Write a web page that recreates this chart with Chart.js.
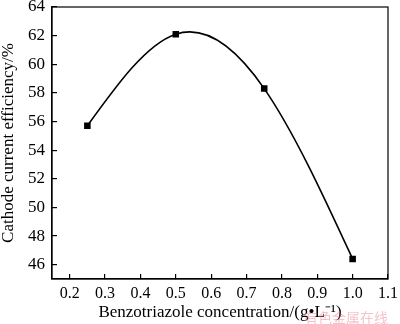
<!DOCTYPE html>
<html>
<head>
<meta charset="utf-8">
<script src="https://cdn.jsdelivr.net/npm/chart.js@4/dist/chart.umd.min.js"></script>
<style>
  body { margin: 0; background: #fff; }
  #wrap { position: relative; width: 400px; height: 324px; overflow: hidden; }
  #mark { position: absolute; left: 304px; top: 310px; font: 14px/14px "Noto Sans CJK SC"; color: rgba(235,120,130,0.45); }
</style>
</head>
<body>
<div id="wrap">
  <canvas id="c" width="400" height="324"></canvas>
  <div id="mark">有色金属在线</div>
</div>
<script>
const concentration = [0.25, 0.5, 0.75, 1.0];
const efficiency = [55.7, 62.1, 58.3, 46.4];
const xTicks = [0.2, 0.3, 0.4, 0.5, 0.6, 0.7, 0.8, 0.9, 1.0, 1.1];
const yTicks = [46, 48, 50, 52, 54, 56, 58, 60, 62, 64];

const serifFamily = '"Liberation Serif", "Times New Roman", serif';

// frame round the plot area
const frame = {
  id: 'frame',
  afterDraw(chart) {
    const a = chart.chartArea, ctx = chart.ctx;
    ctx.save();
    ctx.strokeStyle = '#000';
    ctx.lineWidth = 1.2;
    ctx.strokeRect(a.left, a.top, a.right - a.left, a.bottom - a.top);
    ctx.restore();
  }
};

// natural cubic spline slopes at the data points
function splineSlopes(xs, ys) {
  const n = xs.length, h = [], M = new Array(n).fill(0);
  for (let i = 0; i < n - 1; i++) h.push(xs[i + 1] - xs[i]);
  const a = [], b = [], c = [], d = [];
  for (let i = 1; i < n - 1; i++) {
    a.push(h[i - 1]); b.push(2 * (h[i - 1] + h[i])); c.push(h[i]);
    d.push(6 * ((ys[i + 1] - ys[i]) / h[i] - (ys[i] - ys[i - 1]) / h[i - 1]));
  }
  const m = b.length;
  for (let i = 1; i < m; i++) {
    const w = a[i] / b[i - 1];
    b[i] -= w * c[i - 1]; d[i] -= w * d[i - 1];
  }
  for (let i = m - 1; i >= 0; i--) {
    M[i + 1] = (d[i] - (i < m - 1 ? c[i] * M[i + 2] : 0)) / b[i];
  }
  const s = [];
  for (let i = 0; i < n - 1; i++) {
    s.push((ys[i + 1] - ys[i]) / h[i] - h[i] * (2 * M[i] + M[i + 1]) / 6);
  }
  const k = n - 2;
  s.push((ys[k + 1] - ys[k]) / h[k] + h[k] * (M[k] + 2 * M[k + 1]) / 6);
  return s;
}

// replace Chart.js bezier control points with natural spline ones
const smooth = {
  id: 'smooth',
  beforeDatasetDraw(chart, args) {
    const meta = args.meta, line = meta.dataset;
    if (!line) return;
    line.updateControlPoints(chart.chartArea, 'x');
    const xs = concentration, ys = efficiency, sl = splineSlopes(xs, ys);
    const sx = chart.scales.x, sy = chart.scales.y;
    meta.data.forEach((p, i) => {
      if (i > 0) {
        const h = (xs[i] - xs[i - 1]) / 3;
        p.cp1x = sx.getPixelForValue(xs[i] - h);
        p.cp1y = sy.getPixelForValue(ys[i] - sl[i] * h);
      }
      if (i < xs.length - 1) {
        const h = (xs[i + 1] - xs[i]) / 3;
        p.cp2x = sx.getPixelForValue(xs[i] + h);
        p.cp2y = sy.getPixelForValue(ys[i] + sl[i] * h);
      }
    });
  }
};

new Chart(document.getElementById('c'), {
  type: 'line',
  data: {
    datasets: [{
      data: concentration.map((x, i) => ({ x, y: efficiency[i] })),
      borderColor: '#000',
      backgroundColor: '#000',
      borderWidth: 1.6,
      tension: 0.3,
      pointStyle: 'rect',
      pointRadius: 3.5,
      pointHoverRadius: 3.5
    }]
  },
  plugins: [frame, smooth],
  options: {
    responsive: false,
    animation: false,
    layout: { padding: { top: 7, right: 12, left: 0, bottom: 0 } },
    plugins: { legend: { display: false }, tooltip: { enabled: false } },
    scales: {
      x: {
        type: 'linear',
        min: 0.15,
        max: 1.1,
        afterBuildTicks: s => { s.ticks = xTicks.map(v => ({ value: v })); },
        afterFit: s => { s.height = 45; s.paddingLeft = 0; s.paddingRight = 0; },
        grid: { drawOnChartArea: false, tickLength: -5, color: '#000', lineWidth: 1.2 },
        border: { color: '#000', width: 1.2 },
        ticks: { color: '#000', font: { family: serifFamily, size: 16 }, padding: 10, maxRotation: 0, callback: v => v.toFixed(1) },
        title: { display: true, text: 'Benzotriazole concentration/(g•L⁻¹)', color: '#000', font: { family: serifFamily, size: 17 }, padding: { top: 0, bottom: 1 } }
      },
      y: {
        min: 45,
        max: 64,
        afterBuildTicks: s => { s.ticks = yTicks.map(v => ({ value: v })); },
        afterFit: s => { s.width = 52; s.paddingTop = 0; s.paddingBottom = 0; },
        grid: { drawOnChartArea: false, tickLength: -5, color: '#000', lineWidth: 1.2 },
        border: { color: '#000', width: 1.2 },
        ticks: { color: '#000', font: { family: serifFamily, size: 17 }, padding: 12 },
        title: { display: true, text: 'Cathode current efficiency/%', color: '#000', font: { family: serifFamily, size: 17 }, padding: { top: -2, bottom: 0 } }
      }
    }
  }
});
</script>
</body>
</html>
